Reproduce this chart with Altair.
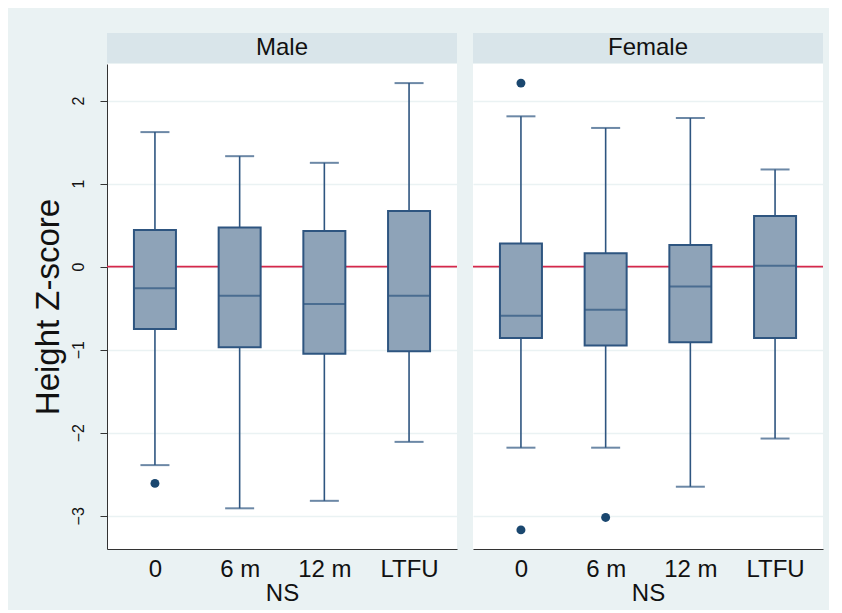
import altair as alt
import pandas as pd

categories = ["0", "6 m", "12 m", "LTFU"]

male_low = [-2.39, -2.91, -2.82, -2.11]
male_q1 = [-0.75, -0.97, -1.05, -1.02]
male_median = [-0.26, -0.35, -0.45, -0.35]
male_q3 = [0.44, 0.47, 0.43, 0.67]
male_high = [1.62, 1.33, 1.25, 2.21]

female_low = [-2.18, -2.18, -2.65, -2.07]
female_q1 = [-0.86, -0.95, -0.91, -0.86]
female_median = [-0.59, -0.52, -0.24, 0.01]
female_q3 = [0.28, 0.16, 0.26, 0.61]
female_high = [1.81, 1.67, 1.79, 1.17]

outlier_sex = ["Male", "Female", "Female", "Female"]
outlier_cat = ["0", "0", "0", "6 m"]
outlier_val = [-2.61, 2.21, -3.17, -3.02]

y_ticks = [-3, -2, -1, 0, 1, 2]

BOX_FILL = "#8ea3b8"
BOX_STROKE = "#2e5580"
DOT = "#1a476f"
REF = "#d6284b"
HEADER = "#d9e5ea"
BG = "#eaf2f3"
TXT = "#111111"

W = 350
H = 485


def panel(sex, lows, q1s, meds, q3s, highs, show_axis):
    df = pd.DataFrame({"cat": categories, "low": lows, "q1": q1s,
                       "med": meds, "q3": q3s, "high": highs})
    odf = pd.DataFrame({"sex": outlier_sex, "cat": outlier_cat, "val": outlier_val})
    odf = odf[odf["sex"] == sex]

    yscale = alt.Scale(domain=[-3.4, 2.44], nice=False, zero=False)
    if show_axis:
        yaxis = alt.Axis(values=y_ticks, labelAngle=270, labelAlign="center",
                         labelBaseline="bottom", labelFontSize=16, labelPadding=14,
                         tickSize=7, tickColor="#333", domainColor="#333",
                         title="Height Z-score", titleFontSize=33,
                         titleFontWeight="normal", titlePadding=5,
                         grid=True, gridColor=BG, gridWidth=1.5)
    else:
        yaxis = alt.Axis(values=y_ticks, labels=False, ticks=False, domain=False,
                         title=None, grid=True, gridColor=BG, gridWidth=1.5)

    xaxis = alt.Axis(title="NS", labelFontSize=24, titleFontSize=24,
                     titleFontWeight="normal", ticks=False, labelAngle=0,
                     domainColor="#333", domainWidth=1.2, labelPadding=8,
                     titlePadding=0, grid=False)
    xenc = alt.X("cat:N", sort=categories,
                 scale=alt.Scale(type="point", padding=0.566), axis=xaxis)

    def Y(field):
        return alt.Y(field, type="quantitative", scale=yscale, axis=yaxis)

    ref = alt.Chart(pd.DataFrame({"z": [0]})).mark_rule(
        color=REF, strokeWidth=1.6).encode(y=Y("z"))

    base = alt.Chart(df)
    whisk_up = base.mark_rule(color=BOX_STROKE, strokeWidth=1.6).encode(
        x=xenc, y=Y("q3"), y2="high")
    whisk_dn = base.mark_rule(color=BOX_STROKE, strokeWidth=1.6).encode(
        x=xenc, y=Y("low"), y2="q1")
    box = base.mark_bar(size=42, fill=BOX_FILL, stroke=BOX_STROKE,
                        strokeWidth=2).encode(x=xenc, y=Y("q1"), y2="q3")
    med = base.mark_tick(size=42, thickness=2, color=BOX_STROKE).encode(
        x=xenc, y=Y("med"))
    cap_hi = base.mark_tick(size=29, thickness=2, color=BOX_STROKE).encode(
        x=xenc, y=Y("high"))
    cap_lo = base.mark_tick(size=29, thickness=2, color=BOX_STROKE).encode(
        x=xenc, y=Y("low"))
    dots = alt.Chart(odf).mark_circle(size=80, color=DOT, opacity=1).encode(
        x=xenc, y=Y("val"))

    hdr_df = pd.DataFrame({"t": [sex]})
    hdr = alt.Chart(hdr_df).mark_rect(fill=HEADER).encode(
        x=alt.value(0), x2=alt.value(W), y=alt.value(-31), y2=alt.value(-1))
    hdr_txt = alt.Chart(hdr_df).mark_text(
        fontSize=24, baseline="middle", align="center", color=TXT).encode(
        x=alt.value(W / 2), y=alt.value(-16), text="t:N")

    return alt.layer(ref, whisk_up, whisk_dn, box, med, cap_hi, cap_lo, dots,
                     hdr, hdr_txt).properties(width=W, height=H)


left = panel("Male", male_low, male_q1, male_median, male_q3, male_high, True)
right = panel("Female", female_low, female_q1, female_median, female_q3,
              female_high, False)

chart = alt.hconcat(left, right, spacing=14).configure(
    background=BG,
    padding={"left": 23, "top": 25, "right": 5, "bottom": 5},
    font="Liberation Sans",
).configure_view(fill="white", stroke=None).configure_axis(
    labelColor=TXT, titleColor=TXT, labelFont="Liberation Sans",
    titleFont="Liberation Sans")

chart.save("out.html", embed_options={"renderer": "svg", "actions": False})
